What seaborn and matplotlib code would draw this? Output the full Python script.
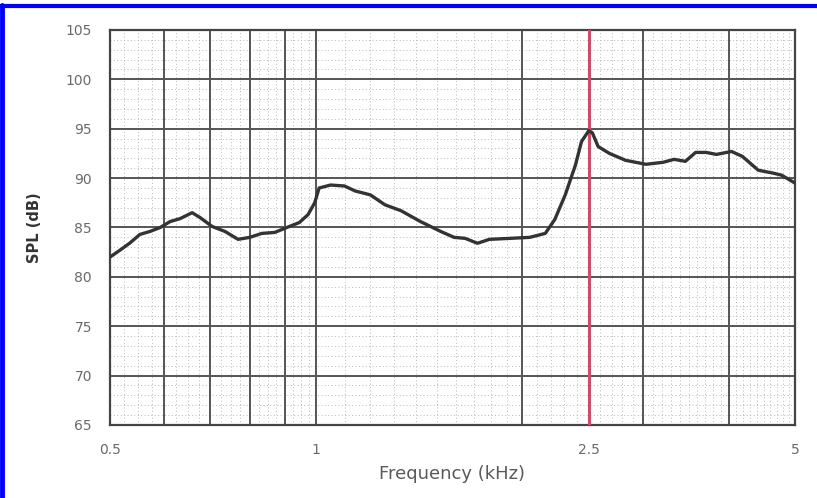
import matplotlib
matplotlib.use("Agg")
import matplotlib.pyplot as plt
import matplotlib.ticker as mticker
from matplotlib.lines import Line2D
import seaborn as sns
import pandas as pd

# frequency response
freq_khz = [0.500, 0.517, 0.534, 0.553, 0.572, 0.592, 0.612, 0.633, 0.659, 0.677,
            0.705, 0.736, 0.769, 0.800, 0.833, 0.870, 0.906, 0.945, 0.973, 0.995,
            1.01, 1.05, 1.10, 1.14, 1.20, 1.26, 1.33, 1.42, 1.52, 1.59,
            1.65, 1.72, 1.79, 1.92, 2.05, 2.16, 2.23, 2.31, 2.39, 2.44,
            2.50, 2.53, 2.58, 2.68, 2.83, 3.03, 3.21, 3.33, 3.46, 3.58,
            3.71, 3.84, 4.04, 4.19, 4.42, 4.65, 4.78, 5.00]
spl_db = [82.0, 82.7, 83.4, 84.3, 84.6, 85.0, 85.6, 85.9, 86.5, 86.0,
          85.1, 84.6, 83.8, 84.0, 84.4, 84.5, 85.0, 85.5, 86.3, 87.5,
          89.0, 89.3, 89.2, 88.7, 88.3, 87.3, 86.7, 85.6, 84.6, 84.0,
          83.9, 83.4, 83.8, 83.9, 84.0, 84.4, 85.8, 88.3, 91.3, 93.7,
          94.8, 94.6, 93.2, 92.5, 91.8, 91.4, 91.6, 91.9, 91.7, 92.6,
          92.6, 92.4, 92.7, 92.2, 90.8, 90.5, 90.3, 89.5]

marker_freq = 2.5
major_x = [0.5, 0.6, 0.7, 0.8, 0.9, 1, 2, 3, 4, 5]
labeled_x = [0.5, 1, 2.5, 5]
labeled_x_text = ["0.5", "1", "2.5", "5"]
y_ticks = [65, 70, 75, 80, 85, 90, 95, 100, 105]

df = pd.DataFrame({"Frequency": freq_khz, "SPL": spl_db})

sns.set_style("white")
plt.rcParams["font.family"] = ["DejaVu Sans"]

fig = plt.figure(figsize=(8.17, 4.98), dpi=100)
ax = fig.add_axes([0.1346, 0.1466, 0.8384, 0.7932])

# dotted minor grid
minor_x = [0.5 + 0.025 * i for i in range(21)] + [1 + 0.1 * i for i in range(41)]
for fx in minor_x:
    ax.axvline(fx, color="#b8b8b8", lw=0.7, ls=(0, (1, 2.5)), zorder=1)
for yy in range(65, 106):
    ax.axhline(yy, color="#b8b8b8", lw=0.7, ls=(0, (1, 2.5)), zorder=1)

# major grid
for fx in major_x:
    ax.axvline(fx, color="#555555", lw=1.4, zorder=2)
for yy in y_ticks:
    ax.axhline(yy, color="#555555", lw=1.4, zorder=2)

ax.axvline(marker_freq, color="#cc4e68", lw=2.2, zorder=3)

sns.lineplot(data=df, x="Frequency", y="SPL", ax=ax, color="#333333",
             linewidth=2.4, zorder=4)

ax.set_xscale("log")
ax.set_xlim(0.5, 5)
ax.set_ylim(65, 105)
ax.xaxis.set_major_locator(mticker.FixedLocator(labeled_x))
ax.xaxis.set_major_formatter(mticker.FixedFormatter(labeled_x_text))
ax.xaxis.set_minor_locator(mticker.FixedLocator(major_x))
ax.xaxis.set_minor_formatter(mticker.NullFormatter())
ax.set_yticks(y_ticks)
ax.yaxis.set_minor_locator(mticker.MultipleLocator(1))

ax.tick_params(axis="both", which="major", direction="out", length=5, width=1.3,
               color="#444444", labelcolor="#6a6a6a", labelsize=10)
ax.tick_params(axis="x", which="major", pad=8)
ax.tick_params(axis="y", which="major", pad=8)
ax.tick_params(axis="both", which="minor", direction="out", length=4, width=1.3,
               color="#444444")

for sp in ax.spines.values():
    sp.set_color("#444444")
    sp.set_linewidth(1.6)

ax.set_xlabel("Frequency (kHz)", fontsize=13, color="#5a5a5a", labelpad=6)
ax.set_ylabel("SPL (dB)", fontsize=10.5, fontweight="bold", color="#333333", labelpad=17)

# blue frame on the image
fig.add_artist(Line2D([0, 1], [0.988, 0.988], transform=fig.transFigure,
                      color="#0000ff", lw=3))
fig.add_artist(Line2D([0.003, 0.003], [0, 0.99], transform=fig.transFigure,
                      color="#0000ff", lw=3.5))

fig.savefig("out.png", dpi=100)
